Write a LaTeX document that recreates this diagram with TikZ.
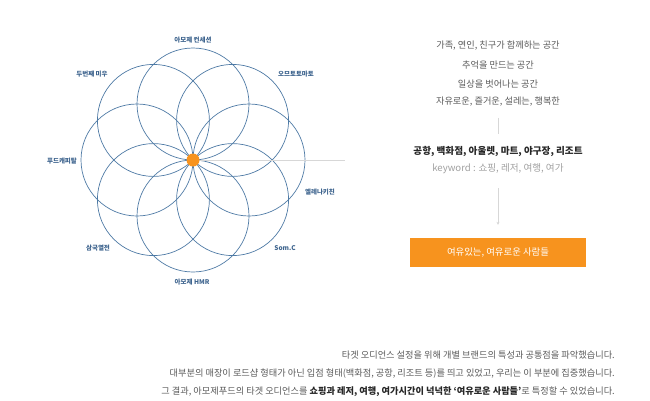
\documentclass[tikz,border=0pt]{standalone}
\usepackage{fontspec}
\setmainfont{Noto Sans CJK KR}
\usetikzlibrary{arrows.meta}

\definecolor{petalblue}{RGB}{78,122,165}
\definecolor{labelblue}{RGB}{62,100,142}
\definecolor{dotorange}{RGB}{247,147,30}
\definecolor{textgray}{RGB}{90,90,90}
\definecolor{keygray}{RGB}{160,160,160}
\definecolor{linegray}{RGB}{215,215,215}

\begin{document}
\begin{tikzpicture}[x=1pt,y=-1pt,
	petal/.style={draw=petalblue, line width=0.7pt},
	brand/.style={text=labelblue, font=\fontsize{6.5}{8}\selectfont\bfseries, inner sep=0pt},
	said/.style={text=textgray, font=\fontsize{9.2}{11}\selectfont, inner sep=0pt},
	link/.style={draw=linegray, line width=0.7pt}
	]
	\useasboundingbox (0,0) rectangle (650,400);
	
	% flower of eight circles
	\coordinate (mid) at (193,160);
	\foreach \a in {0,45,...,315}
		\draw[petal] (mid) ++(\a:56) circle (56);
	
	\coordinate (lineend) at (345,160);
	\draw[link] (mid) -- (lineend);
	\node[circle, fill=dotorange, minimum size=13pt, inner sep=0pt] (hub) at (mid) {};
	
	% brands
	\node[brand] (concession) at (193,40) {아모제 컨세션};
	\node[brand] (miu) at (92,74) {두번째 미우};
	\node[brand] (omu) at (296,74) {오므토토마토};
	\node[brand] (capital) at (62,161) {푸드캐피탈};
	\node[brand] (elena) at (320,192) {엘레나키친};
	\node[brand] (samguk) at (98,248) {삼국열전};
	\node[brand] (somc) at (285,248) {Som.C};
	\node[brand] (hmr) at (192,282) {아모제 HMR};
	
	% right column
	\node[said] (t1) at (498,46) {가족, 연인, 친구가 함께하는 공간};
	\node[said] (t2) at (498,65) {추억을 만드는 공간};
	\node[said] (t3) at (498,84) {일상을 벗어나는 공간};
	\node[said] (t4) at (498,102) {자유로운, 즐거운, 설레는, 행복한};
	
	\node[said, text=black!85, font=\fontsize{9.6}{11}\selectfont\bfseries] (places) at (498,152) {공항, 백화점, 아울렛, 마트, 야구장, 리조트};
	\node[said, text=keygray, font=\fontsize{9.6}{11}\selectfont] (keyword) at (498,169) {keyword : 쇼핑, 레저, 여행, 여가};
	
	\node[fill=dotorange, minimum width=176pt, minimum height=29pt, inner sep=0pt,
	text=white, font=\fontsize{9.4}{11}\selectfont] (crowd) at (498,252.5) {여유있는, 여유로운 사람들};
	
	\draw[link, shorten <=11pt, shorten >=13pt] (t4) -- (places);
	\draw[link, -{Stealth[length=3pt,width=3pt]}, shorten <=14pt, shorten >=13pt] (keyword) -- (crowd);
	
	% notes below
	\node[said, anchor=east] (n1) at (615,355) {타겟 오디언스 설정을 위해 개별 브랜드의 특성과 공통점을 파악했습니다.};
	\node[said, anchor=east] (n2) at (615,374) {대부분의 매장이 로드샵 형태가 아닌 입점 형태(백화점, 공항, 리조트 등)를 띄고 있었고, 우리는 이 부분에 집중했습니다.};
	\node[said, anchor=east] (n3) at (615,392) {그 결과, 아모제푸드의 타겟 오디언스를 {\color{black!85}\bfseries 쇼핑과 레저, 여행, 여가시간이 넉넉한 ‘여유로운 사람들’}로 특정할 수 있었습니다.};
	
\end{tikzpicture}
\end{document}
